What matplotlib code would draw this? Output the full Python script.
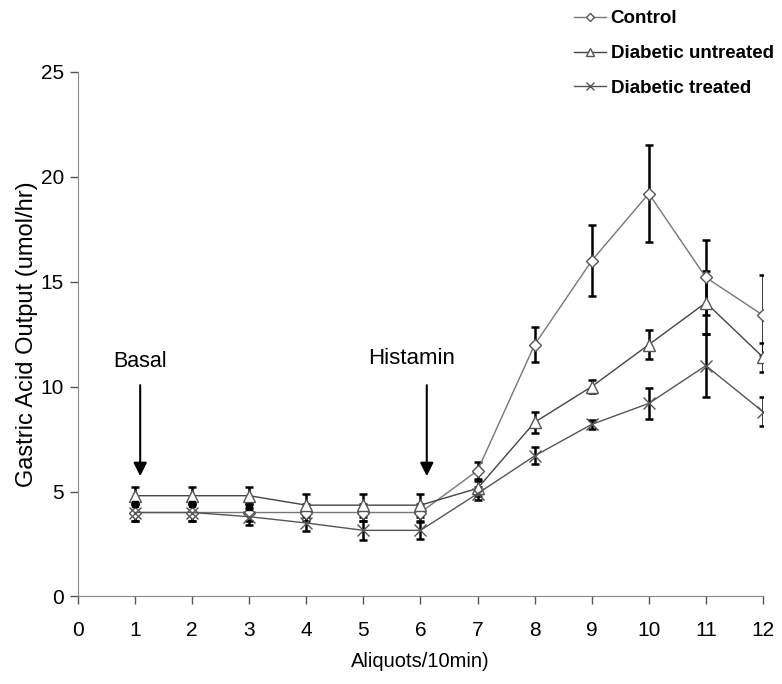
import matplotlib.pyplot as plt

plt.rcParams['font.family'] = ['Liberation Sans', 'DejaVu Sans']

# data
aliquots = [1, 2, 3, 4, 5, 6, 7, 8, 9, 10, 11, 12]
control = [4.0, 4.0, 4.0, 4.0, 4.0, 4.0, 6.0, 12.0, 16.0, 19.2, 15.2, 13.4]
control_err = [0.4, 0.4, 0.4, 0.4, 0.4, 0.4, 0.4, 0.85, 1.7, 2.3, 1.8, 1.9]
untreated = [4.8, 4.8, 4.8, 4.35, 4.35, 4.35, 5.15, 8.3, 10.0, 12.0, 14.0, 11.4]
untreated_err = [0.4, 0.4, 0.4, 0.55, 0.55, 0.55, 0.35, 0.5, 0.3, 0.7, 1.5, 0.7]
treated = [4.0, 4.0, 3.8, 3.5, 3.15, 3.15, 4.9, 6.7, 8.2, 9.2, 11.0, 8.8]
treated_err = [0.4, 0.4, 0.4, 0.4, 0.45, 0.4, 0.3, 0.4, 0.2, 0.75, 1.5, 0.7]
basal_x = [1, 2, 3]
basal_sq = [4.4, 4.4, 4.25]

fig = plt.figure(figsize=(7.82, 6.84), dpi=100)
ax = fig.add_axes([0.0997, 0.128, 0.876, 0.767])

eb = dict(ecolor='black', elinewidth=1.8, capsize=3, capthick=1.8)
ax.errorbar(aliquots, control, yerr=control_err, fmt='none', **eb)
ax.errorbar(aliquots, untreated, yerr=untreated_err, fmt='none', **eb)
ax.errorbar(aliquots, treated, yerr=treated_err, fmt='none', **eb)

ax.plot(aliquots, control, color='#777777', lw=1, marker='D', ms=6,
        mfc='white', mec='#555555', label='Control')
ax.plot(aliquots, untreated, color='#444444', lw=1, marker='^', ms=8,
        mfc='white', mec='#555555', label='Diabetic untreated')
ax.plot(aliquots, treated, color='#555555', lw=1, marker='x', ms=9,
        mec='#555555', label='Diabetic treated')
ax.plot(basal_x, basal_sq, ls='none', marker='s', ms=5, color='black')

ax.set_xlim(0, 12)
ax.set_ylim(0, 25)
ax.set_xticks(range(13))
ax.set_yticks([0, 5, 10, 15, 20, 25])
ax.tick_params(axis='both', labelsize=15, color='#555555', length=6, width=1)
ax.tick_params(axis='x', pad=12)
ax.tick_params(axis='y', pad=4)
for s in ['top', 'right']:
    ax.spines[s].set_visible(False)
for s in ['left', 'bottom']:
    ax.spines[s].set_color('#888888')

ax.set_xlabel('Aliquots/10min)', fontsize=14.5, labelpad=8)
ax.set_ylabel('Gastric Acid Output (umol/hr)', fontsize=17, labelpad=2)

ax.annotate('', xy=(1.09, 5.6), xytext=(1.09, 10.2),
            arrowprops=dict(arrowstyle='-|>', color='black', lw=1.5, mutation_scale=20))
ax.text(1.09, 11.2, 'Basal', fontsize=15.5, ha='center', va='center')
ax.annotate('', xy=(6.11, 5.6), xytext=(6.11, 10.2),
            arrowprops=dict(arrowstyle='-|>', color='black', lw=1.5, mutation_scale=20))
ax.text(5.85, 11.35, 'Histamin', fontsize=16, ha='center', va='center')

fig.legend(handles=ax.get_lines()[-4:-1], loc='upper left',
           bbox_to_anchor=(574 / 782, 1 - 10 / 684), frameon=False,
           prop={'weight': 'bold', 'size': 13.5}, handlelength=1.7,
           handletextpad=0.25, labelspacing=0.95, borderpad=0, borderaxespad=0,
           markerscale=0.7)

fig.savefig('out.png', dpi=100)
